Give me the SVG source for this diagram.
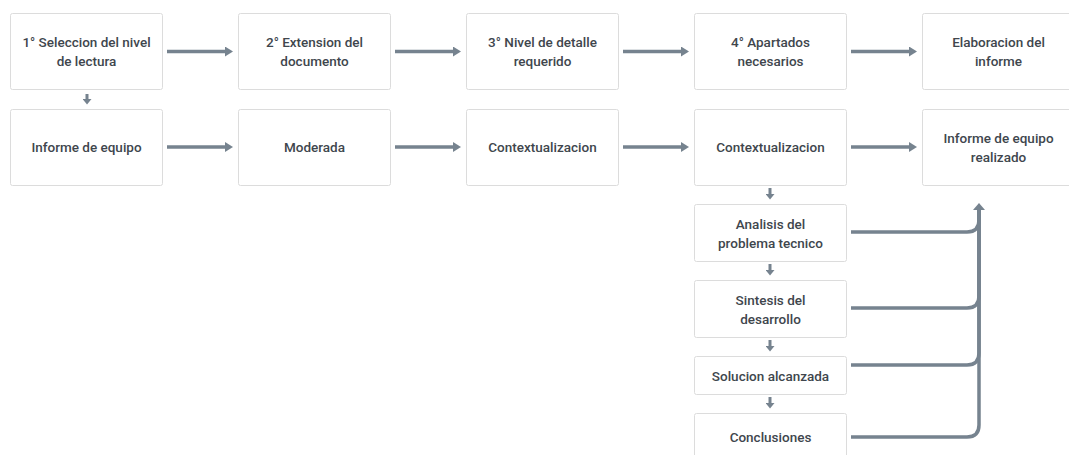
<svg xmlns="http://www.w3.org/2000/svg" width="1069" height="455" viewBox="0 0 1069 455">
  <style>
    .box { fill: #ffffff; stroke: #dcdcdc; stroke-width: 1; }
    .lbl { font-family: Roboto, "Liberation Sans", sans-serif; font-size: 13.5px; font-weight: 500; fill: #40464d; text-anchor: middle; dominant-baseline: central; }
    .conn { fill: none; stroke: #76838f; stroke-width: 3.5; }
    .link { fill: none; stroke: #76838f; stroke-width: 3; }
  </style>
  <defs>
    <!-- arrowheads sized in user units -->
    <marker id="arrow" viewBox="0 0 8 10" refX="1" refY="5" markerWidth="8" markerHeight="10" orient="auto" markerUnits="userSpaceOnUse">
      <path d="M0,0 L8,5 L0,10 Z" fill="#76838f"/>
    </marker>
    <marker id="arrowSmall" viewBox="0 0 5.5 9" refX="1" refY="4.5" markerWidth="5.5" markerHeight="9" orient="auto" markerUnits="userSpaceOnUse">
      <path d="M0,0 L5.5,4.5 L0,9 Z" fill="#76838f"/>
    </marker>
    <marker id="arrowUp" viewBox="0 0 7 12" refX="1" refY="6" markerWidth="7" markerHeight="12" orient="auto" markerUnits="userSpaceOnUse">
      <path d="M0,0 L7,6 L0,12 Z" fill="#76838f"/>
    </marker>
  </defs>

  <!-- connectors -->
  <g id="connectors">
    <!-- top row -->
    <path class="conn" d="M167,51.5 H226" marker-end="url(#arrow)"/>
    <path class="conn" d="M395,51.5 H454" marker-end="url(#arrow)"/>
    <path class="conn" d="M623,51.5 H682" marker-end="url(#arrow)"/>
    <path class="conn" d="M851,51.5 H910" marker-end="url(#arrow)"/>
    <!-- second row -->
    <path class="conn" d="M167,147 H226" marker-end="url(#arrow)"/>
    <path class="conn" d="M395,147 H454" marker-end="url(#arrow)"/>
    <path class="conn" d="M623,147 H682" marker-end="url(#arrow)"/>
    <path class="conn" d="M851,147 H910" marker-end="url(#arrow)"/>
    <!-- short vertical links -->
    <path class="link" d="M87,94 V100" marker-end="url(#arrowSmall)"/>
    <path class="link" d="M770,188 V195" marker-end="url(#arrowSmall)"/>
    <path class="link" d="M770,264 V271" marker-end="url(#arrowSmall)"/>
    <path class="link" d="M770,340 V347" marker-end="url(#arrowSmall)"/>
    <path class="link" d="M770,397 V404" marker-end="url(#arrowSmall)"/>
    <!-- collector trunk -->
    <path class="conn" d="M851,232 H967 Q979,232 979,220 V209" marker-end="url(#arrowUp)"/>
    <path class="conn" d="M851,308 H967 Q979,308 979,296 V209"/>
    <path class="conn" d="M851,365 H967 Q979,365 979,353 V209"/>
    <path class="conn" d="M851,437 H967 Q979,437 979,425 V209"/>
  </g>

  <!-- top row -->
  <g id="n1">
    <rect class="box" x="10.5" y="13.5" width="152" height="76" rx="2"/>
    <text class="lbl" x="86.5" y="42">1° Seleccion del nivel</text>
    <text class="lbl" x="86.5" y="61">de lectura</text>
  </g>
  <g id="n2">
    <rect class="box" x="238.5" y="13.5" width="152" height="76" rx="2"/>
    <text class="lbl" x="314.5" y="42">2° Extension del</text>
    <text class="lbl" x="314.5" y="61">documento</text>
  </g>
  <g id="n3">
    <rect class="box" x="466.5" y="13.5" width="152" height="76" rx="2"/>
    <text class="lbl" x="542.5" y="42">3° Nivel de detalle</text>
    <text class="lbl" x="542.5" y="61">requerido</text>
  </g>
  <g id="n4">
    <rect class="box" x="694.5" y="13.5" width="152" height="76" rx="2"/>
    <text class="lbl" x="770.5" y="42">4° Apartados</text>
    <text class="lbl" x="770.5" y="61">necesarios</text>
  </g>
  <g id="n5">
    <rect class="box" x="922.5" y="13.5" width="152" height="76" rx="2"/>
    <text class="lbl" x="998.5" y="42">Elaboracion del</text>
    <text class="lbl" x="998.5" y="61">informe</text>
  </g>

  <!-- second row -->
  <g id="m1">
    <rect class="box" x="10.5" y="109.5" width="152" height="76" rx="2"/>
    <text class="lbl" x="86.5" y="147">Informe de equipo</text>
  </g>
  <g id="m2">
    <rect class="box" x="238.5" y="109.5" width="152" height="76" rx="2"/>
    <text class="lbl" x="314.5" y="147">Moderada</text>
  </g>
  <g id="m3">
    <rect class="box" x="466.5" y="109.5" width="152" height="76" rx="2"/>
    <text class="lbl" x="542.5" y="147">Contextualizacion</text>
  </g>
  <g id="m4">
    <rect class="box" x="694.5" y="109.5" width="152" height="76" rx="2"/>
    <text class="lbl" x="770.5" y="147">Contextualizacion</text>
  </g>
  <g id="m5">
    <rect class="box" x="922.5" y="109.5" width="152" height="76" rx="2"/>
    <text class="lbl" x="998.5" y="138">Informe de equipo</text>
    <text class="lbl" x="998.5" y="157">realizado</text>
  </g>

  <!-- report sections -->
  <g id="s1">
    <rect class="box" x="694.5" y="204.5" width="152" height="57" rx="2"/>
    <text class="lbl" x="770.5" y="223.5">Analisis del</text>
    <text class="lbl" x="770.5" y="242.5">problema tecnico</text>
  </g>
  <g id="s2">
    <rect class="box" x="694.5" y="280.5" width="152" height="57" rx="2"/>
    <text class="lbl" x="770.5" y="299.5">Sintesis del</text>
    <text class="lbl" x="770.5" y="318.5">desarrollo</text>
  </g>
  <g id="s3">
    <rect class="box" x="694.5" y="356.5" width="152" height="38" rx="2"/>
    <text class="lbl" x="770.5" y="375.5">Solucion alcanzada</text>
  </g>
  <g id="s4">
    <rect class="box" x="694.5" y="413.5" width="152" height="48" rx="2"/>
    <text class="lbl" x="770.5" y="437">Conclusiones</text>
  </g>
</svg>
